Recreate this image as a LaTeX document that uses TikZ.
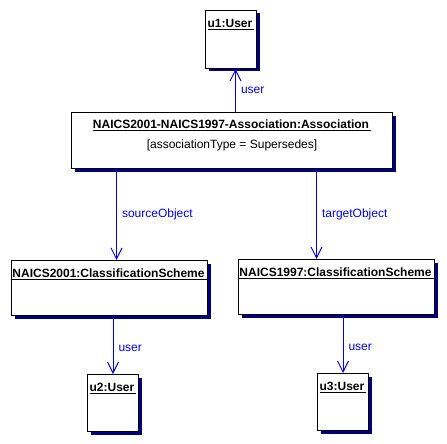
\documentclass[tikz,border=0pt]{standalone}
\usepackage{fontspec}
\setmainfont{Liberation Sans}
\usetikzlibrary{arrows.meta,positioning,shadows}
\definecolor{linkblue}{RGB}{0,0,255}
\definecolor{shadownavy}{RGB}{0,0,128}

\begin{document}
\begin{tikzpicture}[x=1pt, y=-1pt,
      objbox/.style={draw, fill=white, line width=1pt, anchor=north west, inner sep=0pt,
                     drop shadow={shadow xshift=3pt, shadow yshift=-3pt, fill=shadownavy, opacity=1}},
      objname/.style={font=\fontsize{12}{14}\selectfont\bfseries, anchor=north, inner sep=0pt},
      attr/.style={font=\fontsize{12}{14}\selectfont, anchor=north, inner sep=0pt},
      link/.style={-{Straight Barb[length=11pt, width=11pt]}, line width=1pt, linkblue},
      rolelabel/.style={font=\fontsize{12}{14}\selectfont, text=linkblue, right, inner sep=5pt}
    ]
      \useasboundingbox (0,0) rectangle (447,444);

      % Object boxes
      \node[objbox, minimum width=51pt, minimum height=58pt] (u1) at (205,10) {};
      \node[objbox, minimum width=321pt, minimum height=56pt] (assoc) at (71,112) {};
      \node[objbox, minimum width=196pt, minimum height=55pt] (cs1) at (11,260) {};
      \node[objbox, minimum width=196pt, minimum height=55pt] (cs2) at (238,259) {};
      \node[objbox, minimum width=51pt, minimum height=57pt] (u2) at (87,374) {};
      \node[objbox, minimum width=51pt, minimum height=57pt] (u3) at (317,373) {};

      % Object names and attributes
      \node[objname, below=9pt of u1.north] (u1name) {\underline{u1:User\,}};
      \node[objname, below=8pt of assoc.north] (assocname) {\underline{NAICS2001-NAICS1997-Association:Association\,}};
      \node[attr, below=8pt of assocname] (assocattr) {[associationType = Supersedes]};
      \node[objname, below=9pt of cs1.north] (cs1name) {\underline{NAICS2001:ClassificationScheme\,}};
      \node[objname, below=9pt of cs2.north] (cs2name) {\underline{NAICS1997:ClassificationScheme\,}};
      \node[objname, below=9pt of u2.north] (u2name) {\underline{u2:User\,}};
      \node[objname, below=9pt of u3.north] (u3name) {\underline{u3:User\,}};

      % Links
      \draw[link] ([xshift=4.5pt]u1.south |- assoc.north) -- node[rolelabel, pos=0.5] {user} ([xshift=4.5pt]u1.south);
      \draw[link] ([xshift=7pt]cs1.north |- assoc.south) -- node[rolelabel, pos=0.5] {sourceObject} ([xshift=7pt]cs1.north);
      \draw[link] ([xshift=-20pt]cs2.north |- assoc.south) -- node[rolelabel, pos=0.5] {targetObject} ([xshift=-20pt]cs2.north);
      \draw[link] (u2.north |- cs1.south) -- node[rolelabel, pos=0.55] {user} (u2.north);
      \draw[link] (u3.north |- cs2.south) -- node[rolelabel, pos=0.55] {user} (u3.north);
    \end{tikzpicture}
\end{document}
